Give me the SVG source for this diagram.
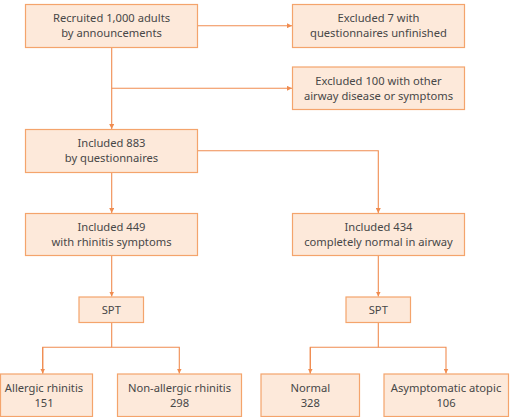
<svg xmlns="http://www.w3.org/2000/svg" width="512" height="417" viewBox="0 0 512 417">
<style>
.box{fill:#fde9da;stroke:#f4a46c;stroke-width:1.2}
.t{font-family:"Noto Sans","Open Sans",sans-serif;font-size:11.2px;fill:#474747;text-anchor:middle}
.c{fill:none;stroke:#f08c50;stroke-width:1.1}
</style>
<defs>
<marker id="a" viewBox="0 0 10 10" refX="10" refY="5" markerWidth="5" markerHeight="5" orient="auto" markerUnits="userSpaceOnUse">
<path d="M0,0 L10,5 L0,10 z" fill="#f08c50"/>
</marker>
</defs>
<rect width="512" height="417" fill="#fff"/>
<g id="connectors">
<path class="c" d="M197.7,25.7 H292" marker-end="url(#a)"/>
<path class="c" d="M111.7,47.3 V129" marker-end="url(#a)"/>
<path class="c" d="M111.7,88.3 H292" marker-end="url(#a)"/>
<path class="c" d="M197.7,150.7 H378.3 V213" marker-end="url(#a)"/>
<path class="c" d="M111.7,172.3 V213" marker-end="url(#a)"/>
<path class="c" d="M111.7,255.7 V296.5" marker-end="url(#a)"/>
<path class="c" d="M378.3,255.7 V296.5" marker-end="url(#a)"/>
<path class="c" d="M111.7,322.7 V347.3"/>
<path class="c" d="M42.7,373.5 V347.3 H179.3 V373.5" marker-end="url(#a)"/>
<path class="c" d="M42.7,347.3 V373.5" marker-end="url(#a)"/>
<path class="c" d="M378.3,322.7 V347.3"/>
<path class="c" d="M310.3,373.5 V347.3 H446 V373.5" marker-end="url(#a)"/>
<path class="c" d="M310.3,347.3 V373.5" marker-end="url(#a)"/>
</g>
<g id="n1"><rect class="box" x="25.5" y="4.5" width="172" height="43"/><text class="t" x="111.5" y="22">Recruited 1,000 adults</text><text class="t" x="111.5" y="37">by announcements</text></g>
<g id="n2"><rect class="box" x="292.5" y="4.5" width="172" height="43"/><text class="t" x="378.5" y="22">Excluded 7 with</text><text class="t" x="378.5" y="37">questionnaires unfinished</text></g>
<g id="n3"><rect class="box" x="292.5" y="67" width="172" height="42.5"/><text class="t" x="378.5" y="84.5">Excluded 100 with other</text><text class="t" x="378.5" y="99.5">airway disease or symptoms</text></g>
<g id="n4"><rect class="box" x="25.5" y="129.5" width="172" height="43"/><text class="t" x="111.5" y="147">Included 883</text><text class="t" x="111.5" y="162">by questionnaires</text></g>
<g id="n5"><rect class="box" x="25.5" y="213.5" width="172" height="42"/><text class="t" x="111.5" y="231">Included 449</text><text class="t" x="111.5" y="246">with rhinitis symptoms</text></g>
<g id="n6"><rect class="box" x="292.5" y="213.5" width="172" height="42"/><text class="t" x="378.5" y="231">Included 434</text><text class="t" x="378.5" y="246">completely normal in airway</text></g>
<g id="n7"><rect class="box" x="79" y="297" width="64.5" height="25.5"/><text class="t" x="111.3" y="313.5">SPT</text></g>
<g id="n8"><rect class="box" x="346" y="297" width="64.5" height="25.5"/><text class="t" x="378.3" y="313.5">SPT</text></g>
<g id="n9"><rect class="box" x="0.5" y="374" width="92" height="42.5"/><text class="t" x="44" y="391.5">Allergic rhinitis</text><text class="t" x="44" y="406.5">151</text></g>
<g id="n10"><rect class="box" x="117.5" y="374" width="124" height="42.5"/><text class="t" x="179.5" y="391.5">Non-allergic rhinitis</text><text class="t" x="179.5" y="406.5">298</text></g>
<g id="n11"><rect class="box" x="261" y="374" width="98.5" height="42.5"/><text class="t" x="310.3" y="391.5">Normal</text><text class="t" x="310.3" y="406.5">328</text></g>
<g id="n12"><rect class="box" x="384" y="374" width="124.5" height="42.5"/><text class="t" x="446" y="391.5">Asymptomatic atopic</text><text class="t" x="446" y="406.5">106</text></g>
</svg>
